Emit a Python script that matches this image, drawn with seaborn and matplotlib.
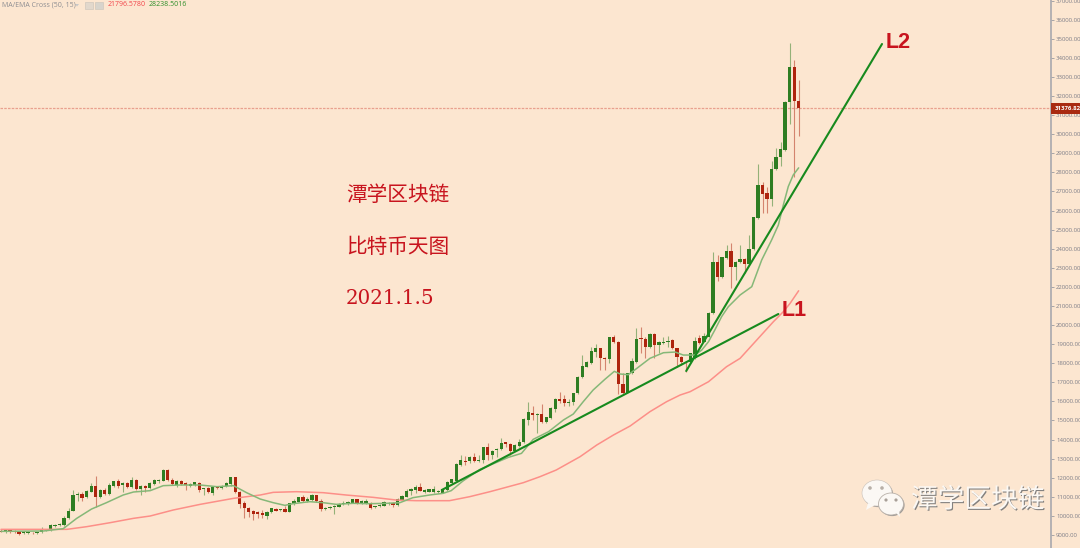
import numpy as np
import pandas as pd
import seaborn as sns
import matplotlib
matplotlib.use("Agg")
import matplotlib.pyplot as plt
import matplotlib.patheffects as pe
from matplotlib.patches import Ellipse, Rectangle, Polygon

open_ = [
 9226,9174,9244,9226,9191,9121,9104,9121,9086,9157,
 9244,9296,9471,9506,9506,9890,10274,11095,11148,10973,
 11270,11585,11008,11358,11148,11585,11812,11620,11724,11497,
 11899,11410,11567,11445,11689,11829,11847,12406,11882,11602,
 11847,11707,11567,11620,11742,11392,11462,11218,11532,11462,
 11567,11654,12021,11270,10694,10414,10274,10222,10135,9995,
 10222,10362,10292,10362,10222,10624,10746,11008,10798,10833,
 11078,10798,10362,10414,10484,10484,10624,10624,10694,10868,
 10676,10694,10694,10466,10501,10536,10624,10694,10571,10833,
 11008,11322,11358,11532,11270,11270,11235,11253,11218,11358,
 11707,11847,12668,12895,12860,13087,12860,12930,13594,13191,
 13453,13488,13855,13750,13418,13663,13855,15026,15375,15305,
 15340,14938,15130,15585,16126,16109,15917,15986,16458,17261,
 17820,17995,18606,18781,18292,18205,19358,19130,16912,16458,
 17471,18065,19305,19253,18833,19532,18956,19078,19113,19218,
 18781,18344,18082,18082,18256,19339,19129,19391,20614,23322,
 22500,23496,23881,23060,23287,23461,23200,23968,25593,27357,
 26903,26606,28159,28789,29173,31688,33540,31758]
high = [
 9296,9296,9278,9261,9226,9209,9191,9156,9174,9401,
 9331,9576,9593,9610,9995,10397,11358,11270,11270,11358,
 11742,12091,11392,11445,11707,11847,11917,11777,11759,12021,
 11951,11602,11637,11777,11917,11917,12441,12441,11969,11864,
 11882,11759,11707,11794,11777,11480,11497,11532,11567,11620,
 11759,12056,12056,11305,10781,10484,10309,10274,10309,10257,
 10432,10397,10379,10519,10694,10868,11008,11095,10973,11148,
 11113,10868,10484,10519,10554,10694,10781,10798,10903,10903,
 10833,10868,10746,10537,10624,10763,10746,10746,10921,11095,
 11392,11445,11602,11707,11410,11427,11585,11358,11427,11812,
 11951,12755,13192,13139,13122,13314,13192,13629,13803,13453,
 13558,14065,13890,13838,13750,14047,15113,15969,15759,15375,
 15847,15200,15707,16161,16476,16336,16109,16458,17331,18432,
 18135,18833,19008,18816,18344,19393,19480,19165,17471,17506,
 18257,19829,19882,19393,19567,19602,19183,19358,19427,19253,
 18816,18397,18135,18554,19391,19478,19566,20684,23846,23671,
 23584,24195,24283,23374,24195,23496,24719,25680,28421,27513,
 27253,28596,29295,29610,31723,34763,33890,32841]
low = [
 9157,9121,9121,9121,8999,9069,9051,9051,9051,9121,
 9209,9226,9436,9471,9471,9855,10239,10798,10798,10921,
 11235,10484,10921,11095,11095,11532,11445,11270,11480,11462,
 11375,11095,11253,11392,11637,11707,11812,11847,11620,11532,
 11620,11358,11515,11585,11270,11095,11218,11095,11410,11427,
 11532,11585,11183,10397,9873,9960,9785,9873,9873,9820,
 10170,10239,10257,10187,10187,10589,10711,10711,10728,10798,
 10728,10274,10327,10362,10100,10449,10571,10589,10659,10624,
 10641,10641,10362,10432,10466,10501,10589,10484,10519,10798,
 10973,11095,11183,11288,11218,11235,11200,11218,11183,11322,
 11672,11812,12633,12668,12755,12842,12825,12755,12930,12964,
 13104,13453,13628,13191,13383,13628,13820,14764,15026,14362,
 14886,14851,15095,15462,15899,15759,15759,15812,16388,17226,
 17785,17960,18344,17646,17646,17995,19043,16388,16335,16423,
 17436,18030,18519,18257,18798,18257,18519,19008,18868,18729,
 17820,17908,17558,18030,18221,19007,19094,19356,20579,22326,
 22466,23461,21924,22361,23252,22710,23165,23933,25558,25855,
 25890,26239,28125,28334,29138,30518,27775,29924]
close = [
 9174,9244,9191,9174,9051,9174,9156,9086,9139,9331,
 9296,9506,9523,9558,9890,10274,11095,11165,10921,11322,
 11585,11008,11358,11148,11637,11812,11585,11742,11515,11899,
 11410,11567,11445,11742,11864,11882,12388,11882,11654,11829,
 11654,11602,11654,11759,11358,11445,11253,11497,11445,11585,
 11724,12021,11270,10624,10397,10205,10100,10100,10065,10222,
 10397,10274,10344,10222,10659,10798,10973,10763,10868,11113,
 10763,10344,10432,10466,10519,10624,10694,10746,10868,10659,
 10763,10763,10432,10501,10571,10711,10694,10554,10868,11060,
 11322,11392,11532,11322,11358,11392,11392,11322,11392,11777,
 11917,12720,12930,12842,13087,12877,12947,13594,13192,13418,
 13523,13838,13768,13418,13715,13873,15078,15427,15305,15340,
 14938,15165,15672,16109,16021,15899,15986,16423,17296,17855,
 18047,18659,18781,18257,18222,19358,19130,16894,16423,17471,
 18100,19270,19253,18868,19532,18956,19096,19130,19183,18781,
 18344,18082,18047,18519,19182,19042,19426,20649,23322,22500,
 23549,23881,23060,23322,23461,23200,24003,25645,27357,26868,
 26606,28159,28789,29208,31688,33540,31758,31377]

ema_day = [0,9.4,13.8,16.8,20.1,23.4,27.1,29.4,33.1,36,39.7,44.2,47.9,51.6,54.5,57.5,60.4,63,64.8,68.5,
           71.5,74.4,78.1,81.8,85.5,88.5,91.4,95.1,98.1,99.9,102.5,106.3,112.6,115.5,118.1,121.5,124.8,127,
           129.2,131.4,134,136.1,137.4,139.2,141.1,144,147,149.6,151.4,154,155.5,157,158.4,159.9,161.4,164,
           166.6,167.7,168.8,171,172.5,173.6,174.7,175.8,177]
ema_val = [9191,9209,9331,9872,10362,10694,11095,11253,11323,11585,11620,11620,11532,11585,11218,10886,10694,10554,10641,10746,
           10694,10606,10659,10641,10659,10694,10956,11095,11183,11323,11829,12440,13069,13278,14012,14414,15025,15340,
           15986,16598,17157,17576,17436,17401,17733,18257,18552,18587,18430,18430,18692,19129,19740,20439,20963,21575,
           22012,22710,23409,24457,25243,26292,27260,27864,28238]

ma_day = [0,7.2,14.6,19,24.2,29.4,33.1,38.2,44.2,51.6,57.5,60.4,65.6,71.5,76.6,82.6,87.7,92.1,99.5,104,108.5,
          115.9,119.6,123.2,128.5,132.2,135.9,139.6,144,147.7,150.7,152.9,157,161,164,167.7,171.4,173.6,175.1,177]
ma_val = [9296,9296,9296,9436,9645,9873,9995,10309,10606,10921,11095,11235,11270,11218,11095,10973,10833,10798,10798,11008,11270,
          11741,12056,12405,13104,13715,14239,14711,15462,15986,16335,16508,17032,17819,18255,19216,20177,20701,21138,21797]

l1_day, l1_val = [97.8, 172.5], [11358, 20580]
l2_day, l2_val = [152.05, 195.5], [17594, 34728]
last_price = 31376.82
price_ticks = list(range(9000, 38000, 1000))

title_lines = ["潭学区块链", "比特币天图", "2021.1.5"]
legend_name = "MA/EMA Cross (50, 15)"
legend_ma, legend_ema = "21796.5780", "28238.5016"

BG = "#FCE6D0"
GREEN = "#2E7D22"
RED = "#AE240E"
TXT = "#C8141E"

sns.set_theme(style="ticks", rc={"axes.facecolor": BG, "figure.facecolor": BG})
plt.rcParams["font.family"] = ["Noto Sans CJK SC", "DejaVu Sans"]

fig = plt.figure(figsize=(10.8, 5.48), dpi=100)
ax = fig.add_axes([0, 0, 1051 / 1080, 1])

df = pd.DataFrame({"day": np.arange(len(close)), "open": open_, "high": high, "low": low, "close": close})
assert all(len(a) == 178 for a in (open_, high, low, close))
df["up"] = df["close"] >= df["open"]

for up, colour in ((True, GREEN), (False, RED)):
    d = df[df["up"] == up]
    ax.vlines(d["day"], d["low"], d["high"], color=colour, lw=0.8, alpha=0.5, zorder=2)
    ax.bar(d["day"], (d["close"] - d["open"]).abs().clip(lower=30),
           bottom=d[["open", "close"]].min(axis=1), width=0.72, color=colour, lw=0, zorder=3)

sns.lineplot(x=ma_day, y=ma_val, ax=ax, color="#FD8F88", lw=1.1, estimator=None, zorder=4)
sns.lineplot(x=ema_day, y=ema_val, ax=ax, color="#86B878", lw=1.1, estimator=None, zorder=4)
sns.lineplot(x=l1_day, y=l1_val, ax=ax, color="#178A1E", lw=1.5, estimator=None, zorder=5)
sns.lineplot(x=l2_day, y=l2_val, ax=ax, color="#178A1E", lw=1.5, estimator=None, zorder=5)

ax.axhline(last_price, color="#E9A08E", lw=0.9, ls=(0, (2, 1)), zorder=1)

ax.set_xlim(-0.222, 233.0)
ax.set_ylim(8319, 37034)
ax.set_xticks([])
ax.yaxis.tick_right()
ax.set_yticks(price_ticks)
ax.set_yticklabels([f"{v:.2f}" for v in price_ticks], family="Open Sans", fontsize=4.3, color="#7E7E88")
ax.tick_params(axis="y", length=2.0, width=0.6, color="#9A9AA0", pad=1.6)
for s in ("top", "left", "bottom"):
    ax.spines[s].set_visible(False)
ax.spines["right"].set_color("#A8A8AE")
ax.spines["right"].set_linewidth(1.2)

# overlay in figure pixels for annotations and the watermark
ov = fig.add_axes([0, 0, 1, 1], facecolor="none")
ov.set_xlim(0, 1080)
ov.set_ylim(548, 0)
ov.axis("off")

ov.add_patch(Rectangle((1051, 102.5), 29, 11, color="#A92A10", lw=0))
ov.text(1054.5, 108, f"{last_price:.2f}", color="white", fontsize=4.3, family="Open Sans", weight="bold", va="center", ha="left")

ov.text(346.5, 195, title_lines[0], color=TXT, fontsize=14.9, va="center", ha="left")
ov.text(346.5, 247, title_lines[1], color=TXT, fontsize=14.9, va="center", ha="left")
ov.text(346, 299, title_lines[2], color=TXT, fontsize=14.3, family="DejaVu Serif", va="center", ha="left")

ov.text(885.5, 42, "L2", color=TXT, fontsize=15.5, family="Liberation Sans", weight="bold", va="center", ha="left")
ov.text(781.5, 310, "L1", color=TXT, fontsize=15.5, family="Liberation Sans", weight="bold", va="center", ha="left")

ov.text(2, 5, legend_name, color="#8E8E92", fontsize=5, family="Open Sans", va="center", ha="left")
ov.add_patch(Polygon([[75, 4], [79, 4], [77, 6.5]], color="#C8C8C8", lw=0))
ov.add_patch(Rectangle((85, 1.5), 8, 7, facecolor="#E2D8CC", edgecolor="#D0C8BE", lw=0.5))
ov.add_patch(Rectangle((95, 1.5), 8, 7, facecolor="#D8D4CC", edgecolor="#D0C8BE", lw=0.5))
ov.text(108, 5, legend_ma, color="#F2454A", fontsize=5, family="Open Sans", va="center", ha="left")
ov.text(149, 5, legend_ema, color="#2F8F2A", fontsize=5, family="Open Sans", va="center", ha="left")

# watermark
shadow = [pe.withSimplePatchShadow(offset=(0.8, -0.8), shadow_rgbFace="#8A8A8A", alpha=0.8)]
big = Ellipse((877, 493), 30, 26, facecolor="#FBF8F4", edgecolor="#C8C0B8", lw=0.4, path_effects=shadow)
ov.add_patch(big)
ov.add_patch(Polygon([[868, 503], [866, 510], [875, 505]], color="#FBF8F4", lw=0))
small = Ellipse((891, 504), 25, 22, facecolor="#FBF8F4", edgecolor="#B8B0A8", lw=0.6, path_effects=shadow)
ov.add_patch(small)
ov.add_patch(Polygon([[896, 513], [900, 517], [899, 510]], color="#FBF8F4", lw=0))
for cx, cy, r, c in ((870, 488, 1.8, "#B8B0A8"), (882, 488, 1.8, "#B8B0A8"), (886, 500, 1.6, "#A8A098"), (896, 500, 1.6, "#A8A098")):
    ov.add_patch(Ellipse((cx, cy), r * 2, r * 2, color=c, lw=0))
ov.text(911, 500, "潭学区块链", color="#FBF8F4", fontsize=19.2, weight="light", va="center", ha="left",
        path_effects=[pe.withSimplePatchShadow(offset=(0.8, -0.8), shadow_rgbFace="#777777", alpha=0.9)])

fig.savefig("out.png", dpi=100, facecolor=BG)
